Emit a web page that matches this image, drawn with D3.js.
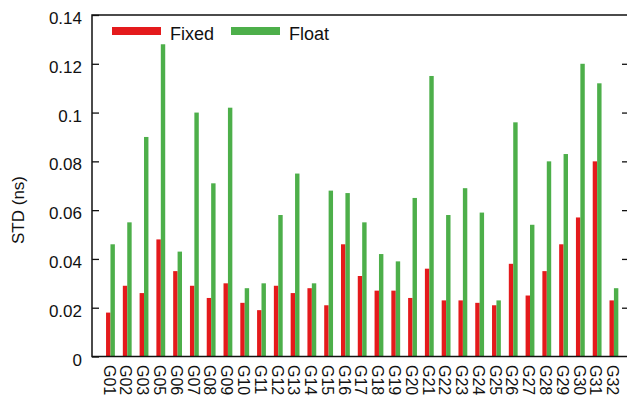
<!DOCTYPE html>
<html>
<head>
<meta charset="utf-8">
<script src="https://cdn.jsdelivr.net/npm/d3@7"></script>
<style>
  html, body { margin: 0; padding: 0; background: #fff; }
  svg { display: block; font-family: "Liberation Sans", Arial, Helvetica, sans-serif; }
</style>
</head>
<body>
<svg id="chart" width="627" height="401"></svg>
<script>
// Per-group timing spread (standard deviation, ns)
const groups = ["G01","G02","G03","G05","G06","G07","G08","G09","G10","G11","G12","G13","G14","G15","G16",
                "G17","G18","G19","G20","G21","G22","G23","G24","G25","G26","G27","G28","G29","G30","G31","G32"];
const fixedStd = [0.018,0.029,0.026,0.048,0.035,0.029,0.024,0.030,0.022,0.019,0.029,0.026,0.028,0.021,0.046,
                  0.033,0.027,0.027,0.024,0.036,0.023,0.023,0.022,0.021,0.038,0.025,0.035,0.046,0.057,0.080,0.023];
const floatStd = [0.046,0.055,0.090,0.128,0.043,0.100,0.071,0.102,0.028,0.030,0.058,0.075,0.030,0.068,0.067,
                  0.055,0.042,0.039,0.065,0.115,0.058,0.069,0.059,0.023,0.096,0.054,0.080,0.083,0.120,0.112,0.028];
const seriesNames = ["Fixed", "Float"];
const seriesColors = ["#e41a1c", "#4daf4a"];
const yTicks = [0, 0.02, 0.04, 0.06, 0.08, 0.1, 0.12, 0.14];

const svg = d3.select("#chart");
const L = 92, R = 628, T = 15, B = 356.5;

const x = d3.scaleLinear().domain([-1.1, 30.72]).range([L, 626]);
const y = d3.scaleLinear().domain([0, 0.14]).range([B, T]);
const step = x(1) - x(0);
const barW = step * 0.263;

// bars
const series = [fixedStd, floatStd];
series.forEach((vals, s) => {
  svg.append("g").selectAll("rect").data(vals).join("rect")
    .attr("x", (d, i) => s === 0 ? x(i) - barW : x(i))
    .attr("width", barW)
    .attr("y", d => y(d))
    .attr("height", d => y(0) - y(d))
    .attr("fill", seriesColors[s]);
});

// frame
svg.append("rect")
  .attr("x", L).attr("y", T).attr("width", R - L).attr("height", B - T)
  .attr("fill", "none").attr("stroke", "#111").attr("stroke-width", 1.5);

// y axis ticks (mirrored on both sides) and labels
const yAxisL = d3.axisLeft(y).tickValues(yTicks).tickFormat(d3.format("")).tickSize(-7).tickPadding(10);
const gy = svg.append("g").attr("transform", `translate(${L},0)`).call(yAxisL);
gy.select(".domain").remove();
gy.selectAll(".tick line").attr("stroke", "#111").attr("stroke-width", 1.3);
gy.selectAll(".tick text").attr("font-size", 17).attr("fill", "#111").attr("dy", "0.5em");

const yAxisR = d3.axisRight(y).tickValues(yTicks.slice(1, -1)).tickFormat("").tickSize(-6);
const gyr = svg.append("g").attr("transform", `translate(${R},0)`).call(yAxisR);
gyr.select(".domain").remove();
gyr.selectAll(".tick line").attr("stroke", "#111").attr("stroke-width", 1.3);

// x category labels, rotated
svg.append("g").selectAll("text").data(groups).join("text")
  .attr("transform", (d, i) => `translate(${x(i) - 1},365) rotate(90)`)
  .attr("dy", "0.36em")
  .attr("text-anchor", "start")
  .attr("font-size", 16)
  .attr("fill", "#111")
  .text(d => d);

// y axis title
svg.append("text")
  .attr("transform", "translate(24,210) rotate(-90)")
  .attr("text-anchor", "middle")
  .attr("font-size", 17)
  .attr("fill", "#111")
  .text("STD (ns)");

// legend
const legendX = [112, 231];
seriesNames.forEach((name, s) => {
  svg.append("rect")
    .attr("x", legendX[s]).attr("y", 27).attr("width", 49).attr("height", 8)
    .attr("fill", seriesColors[s]);
  svg.append("text")
    .attr("x", legendX[s] + 58).attr("y", 40)
    .attr("font-size", 18)
    .attr("fill", "#111")
    .text(name);
});
</script>
</body>
</html>
